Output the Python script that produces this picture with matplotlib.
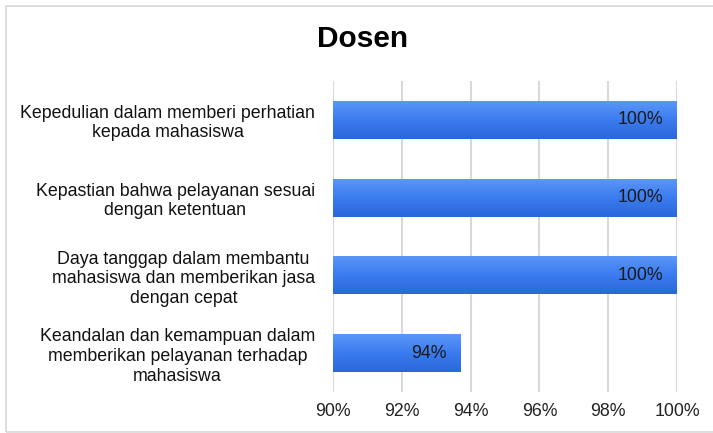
import numpy as np
import matplotlib
matplotlib.use("Agg")
from matplotlib import pyplot as plt
from matplotlib.colors import LinearSegmentedColormap
from matplotlib.patches import Rectangle

plt.rcParams['font.family'] = ['Liberation Sans', 'DejaVu Sans']

labels = ["Kepedulian dalam memberi perhatian\nkepada mahasiswa",
          "Kepastian bahwa pelayanan sesuai\ndengan ketentuan",
          "Daya tanggap dalam membantu\nmahasiswa dan memberikan jasa\ndengan cepat",
          "Keandalan dan kemampuan dalam\nmemberikan pelayanan terhadap\nmahasiswa"]
values = [100, 100, 100, 93.7]
value_text = ["100%", "100%", "100%", "94%"]
xticks = [90, 92, 94, 96, 98, 100]

fig = plt.figure(figsize=(7.13, 4.33), dpi=100)
# light frame round the chart (open on the right)
fig.patches.append(Rectangle((6/713, 1.5/433), 1.2, 1 - 7/433, transform=fig.transFigure,
                             fill=False, edgecolor="#d8d8d8", linewidth=1.2))

ax = fig.add_axes([333/713, 1 - 392/433, 344/713, 311/433])
y = np.arange(len(values))
bars = ax.barh(y, [v - 90 for v in values], left=90, height=0.49, color="#3d7ef0", zorder=2)

# vertical gradient inside each bar
cmap = LinearSegmentedColormap.from_list("blu", ["#5c97f7", "#3b7cf0", "#2a68d8"])
grad = np.linspace(0, 1, 64).reshape(-1, 1)
for b in bars:
    x0, y0, w, h = b.get_x(), b.get_y(), b.get_width(), b.get_height()
    im = ax.imshow(grad, cmap=cmap, aspect="auto", extent=(x0, x0 + w, y0 + h, y0),
                   origin="upper", zorder=3)
    im.set_clip_path(b)

for yi, v, t in zip(y, values, value_text):
    ax.text(v - 0.4, yi, t, ha="right", va="center", fontsize=12.8, color="#1a1a1a", zorder=4)

ax.set_xlim(90, 100)
ax.set_ylim(3.5, -0.5)
ax.set_xticks(xticks)
ax.set_xticklabels(["{}%".format(t) for t in xticks], fontsize=12.8, color="#222222")
ax.set_yticks(y)
ax.set_yticklabels(labels, fontsize=12.8, color="#111111")
for lab in ax.get_yticklabels():
    lab.set_multialignment("center")
    lab.set_linespacing(1.2)
ax.tick_params(axis="both", length=0)
ax.tick_params(axis="x", pad=8)
ax.tick_params(axis="y", pad=13)
ax.grid(axis="x", color="#d9d9d9", linewidth=1.5, zorder=0)
ax.set_axisbelow(True)
for s in ax.spines.values():
    s.set_visible(False)

fig.text(363/713, 1 - 39/433, "Dosen", ha="center", va="center", fontsize=21.5, fontweight="bold")

fig.savefig("out.png", dpi=100)
